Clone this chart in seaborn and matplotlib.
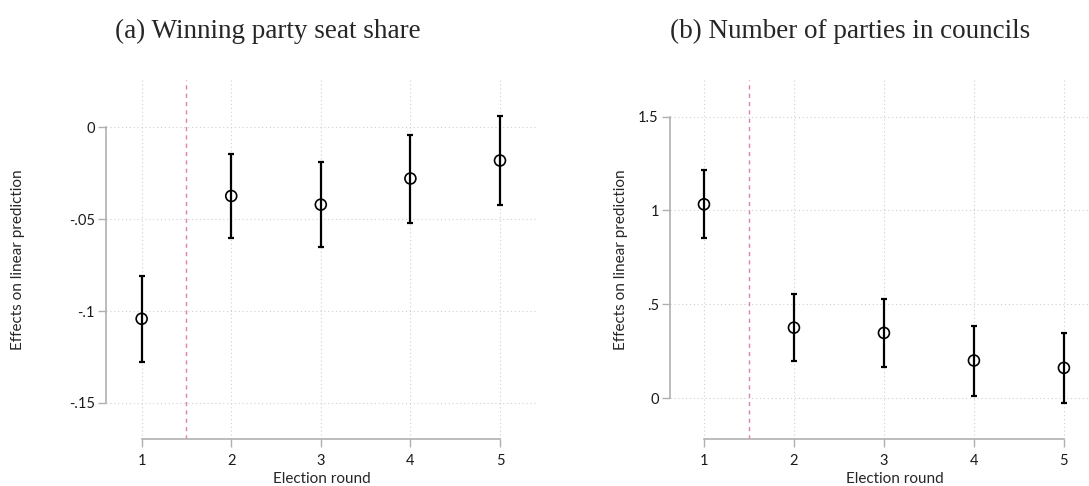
import numpy as np
import pandas as pd
import seaborn as sns
import matplotlib
matplotlib.use("Agg")
import matplotlib.pyplot as plt

rounds = [1, 2, 3, 4, 5]

# (a) winning party seat share
share_est = [-0.1042, -0.0374, -0.0421, -0.0279, -0.0181]
share_lo = [-0.1276, -0.0603, -0.0653, -0.0521, -0.0425]
share_hi = [-0.0809, -0.0143, -0.0187, -0.0040, 0.0062]

# (b) number of parties in councils
parties_est = [1.033, 0.376, 0.348, 0.201, 0.162]
parties_lo = [0.852, 0.199, 0.167, 0.014, -0.027]
parties_hi = [1.216, 0.556, 0.529, 0.387, 0.348]

share_ticks = [-0.15, -0.1, -0.05, 0]
share_ticklabels = ["-.15", "-.1", "-.05", "0"]
parties_ticks = [0, 0.5, 1, 1.5]
parties_ticklabels = ["0", ".5", "1", "1.5"]

sns.set_style("white")
plt.rcParams["font.family"] = ["Lato", "DejaVu Sans"]

fig = plt.figure(figsize=(10.89, 4.86), dpi=100)
ax_a = fig.add_axes([0.0973, 0.0967, 0.3958, 0.7387])
ax_b = fig.add_axes([0.6152, 0.0967, 0.413, 0.7387])

panels = [
    (ax_a, share_est, share_lo, share_hi, share_ticks, share_ticklabels,
     (0.6016, 5.413), (-0.1696, 0.0257), -0.188),
    (ax_b, parties_est, parties_lo, parties_hi, parties_ticks, parties_ticklabels,
     (0.622, 5.62), (-0.217, 1.695), -0.093),
]
titles = ["(a) Winning party seat share", "(b) Number of parties in councils"]

for ax, est, lo, hi, yt, ytl, xl, yl, ylab_x in panels:
    df = pd.DataFrame({"round": rounds, "est": est, "lo": lo, "hi": hi})

    # dotted grid underneath
    for t in yt:
        ax.axhline(t, color="#cfcfcf", lw=0.8, ls=(0, (1, 2.5)), zorder=0)
    for r in rounds:
        ax.axvline(r, color="#cfcfcf", lw=0.8, ls=(0, (1, 2.5)), zorder=0)
    ax.axvline(1.5, color="#e07fb5", lw=1.0, ls=(0, (3, 3)), zorder=1)

    ax.errorbar(df["round"], df["est"],
                yerr=[df["est"] - df["lo"], df["hi"] - df["est"]],
                fmt="none", ecolor="black", elinewidth=1.6, capsize=2.5,
                capthick=1.6, zorder=2)
    sns.scatterplot(data=df, x="round", y="est", ax=ax, marker="o", s=62,
                    facecolor="none", edgecolor="black", linewidth=1.2,
                    zorder=3)

    ax.set_xlim(*xl)
    ax.set_ylim(*yl)
    ax.set_xticks(rounds)
    ax.set_xticklabels([str(r) for r in rounds])
    ax.set_yticks(yt)
    ax.set_yticklabels(ytl)
    ax.set_xlabel("Election round", fontsize=11, labelpad=3)
    ax.set_ylabel("Effects on linear prediction", fontsize=11)
    ax.yaxis.set_label_coords(ylab_x, 0.5)
    ax.tick_params(axis="both", which="major", direction="out", length=6,
                   width=1, color="#b0b0b0", labelsize=10.5,
                   labelcolor="#1a1a1a", left=True, bottom=True)
    ax.tick_params(axis="x", pad=5)
    ax.tick_params(axis="y", pad=2)
    sns.despine(ax=ax, trim=True)
    for side in ["left", "bottom"]:
        ax.spines[side].set_color("#b0b0b0")
        ax.spines[side].set_linewidth(1.2)
    ax.set_facecolor("none")

fig.text(0.2457, 0.922, titles[0], ha="center", va="baseline",
         fontsize=19.5, family=["Liberation Serif", "DejaVu Serif"])
fig.text(0.7805, 0.922, titles[1], ha="center", va="baseline",
         fontsize=19.5, family=["Liberation Serif", "DejaVu Serif"])

fig.savefig("out.png", dpi=100)
